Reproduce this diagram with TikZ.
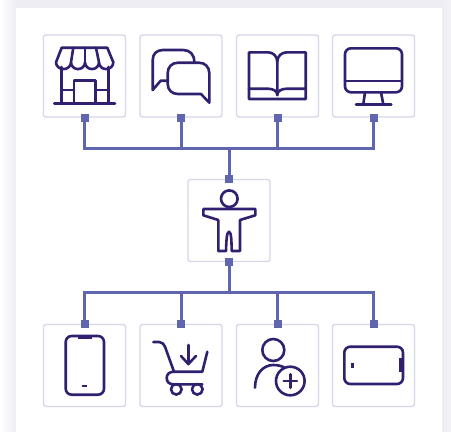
\documentclass[tikz,border=0pt]{standalone}
\definecolor{iconink}{HTML}{30206F}
\definecolor{wireblue}{HTML}{5F66AD}
\definecolor{cardedge}{HTML}{D6D7E8}
\definecolor{panelshade}{HTML}{EDEDF3}
\tikzset{
    cardbox/.style={draw=cardedge,line width=1.4pt,rounded corners=2.5pt,minimum size=82pt,inner sep=0pt},
    portbox/.style={fill=wireblue,minimum size=8pt,inner sep=0pt},
    wire/.style={draw=wireblue,line width=3pt},
    icon/.style={draw=iconink,line width=2.6pt,line join=round,line cap=round},
    iconthick/.style={draw=iconink,line width=3.8pt,line cap=round}
}
\begin{document}
\begin{tikzpicture}[x=1pt,y=-1pt]
    \useasboundingbox (0,0) rectangle (451,432);
    \shade[left color=white,right color=panelshade] (0,0) rectangle (16,432);
    \fill[panelshade] (16,0) rectangle (451,8);
    \shade[left color=panelshade,right color=panelshade!70] (442,0) rectangle (451,432);
    \fill[white] (16,8) rectangle (442,432);

    \node[cardbox] (shop) at (84.5,76) {};
    \node[cardbox] (chat) at (181,76) {};
    \node[cardbox] (book) at (277.5,76) {};
    \node[cardbox] (monitor) at (373.5,76) {};
    \node[cardbox] (person) at (229,220.5) {};
    \node[cardbox] (phone) at (84.5,365.5) {};
    \node[cardbox] (cart) at (181,365.5) {};
    \node[cardbox] (adduser) at (277.5,365.5) {};
    \node[cardbox] (tablet) at (373.5,365.5) {};

    \coordinate (topbus) at (229,148.3);
    \coordinate (lowbus) at (229,292.7);
    \draw[wire] (shop.south) |- (topbus);
    \draw[wire] (chat.south) |- (topbus);
    \draw[wire] (book.south) |- (topbus);
    \draw[wire] (monitor.south) |- (topbus);
    \draw[wire] (person.north) -- (topbus);
    \draw[wire] (person.south) -- (lowbus);
    \draw[wire] (phone.north) |- (lowbus);
    \draw[wire] (cart.north) |- (lowbus);
    \draw[wire] (adduser.north) |- (lowbus);
    \draw[wire] (tablet.north) |- (lowbus);

    \node[portbox] (shopport) at (shop.south) {};
    \node[portbox] (chatport) at (chat.south) {};
    \node[portbox] (bookport) at (book.south) {};
    \node[portbox] (monitorport) at (monitor.south) {};
    \node[portbox] (persontop) at (person.north) {};
    \node[portbox] (personlow) at (person.south) {};
    \node[portbox] (phoneport) at (phone.north) {};
    \node[portbox] (cartport) at (cart.north) {};
    \node[portbox] (adduserport) at (adduser.north) {};
    \node[portbox] (tabletport) at (tablet.north) {};

    \draw[icon] (61.7,47.7) -- (107.3,47.7) -- (113.3,62.3) arc (0:180:7.15 and 6.8) arc (0:180:7 and 6.8) arc (0:180:7 and 6.8) arc (0:180:7.5 and 6.8) -- cycle;
    \draw[icon] (73.3,47.7) -- (71,62.3);
    \draw[icon] (85,47.7) -- (85,62.3);
    \draw[icon] (96,47.7) -- (99,62.3);
    \draw[icon] (61.7,67) -- (61.7,103.7);
    \draw[icon] (108.3,67) -- (108.3,103.7);
    \draw[icon] (54.3,103.7) -- (115,103.7);
    \draw[icon] (74,103.7) -- (74,80.3) -- (95.7,80.3) -- (95.7,103.7);
    \draw[icon] (61.7,90) -- (74,90);
    \draw[icon] (95.7,90) -- (108.3,90);

    \draw[icon] (194.3,62) .. controls (194.3,54.5) and (190,50) .. (183,50) -- (163,50) .. controls (156.5,50) and (152.7,54) .. (152.7,60) -- (152.7,90) -- (160.7,80.7) -- (167.7,80.7);
    \draw[icon] (201,94) -- (178,94) .. controls (172,94) and (167.7,90) .. (167.7,84) -- (167.7,73) .. controls (167.7,67) and (172,62.7) .. (178,62.7) -- (199,62.7) .. controls (205,62.7) and (209.3,67) .. (209.3,73) -- (209.3,102.7) -- cycle;

    \draw[icon] (277.3,62) .. controls (277.3,56) and (273,52.3) .. (268,52.3) -- (249,52.3) -- (249,99) -- (305.7,99) -- (305.7,52.3) -- (287,52.3) .. controls (281.5,52.3) and (277.3,56) .. (277.3,62) -- (277.3,95);
    \draw[icon] (249,88.7) -- (268,88.7) .. controls (273,88.7) and (277.3,91) .. (277.3,95) .. controls (277.3,91) and (281.5,88.7) .. (287,88.7) -- (305.7,88.7);

    \draw[icon,rounded corners=6pt] (345,48.3) rectangle (402,92.3);
    \draw[icon] (345,81) -- (402,81);
    \draw[icon] (365,92.3) -- (363.3,104.3);
    \draw[icon] (381,92.3) -- (383.3,104.3);
    \draw[icon] (356,104.3) -- (391.3,104.3);

    \draw[icon] (229.3,198.7) circle (8.3);
    \draw[icon] (203.3,209) -- (255.3,209) -- (255.3,215.3) -- (240,220) -- (240,251) -- (231.7,251) .. controls (231.5,243) and (231.5,231.7) .. (229,231.7) .. controls (226.5,231.7) and (226.3,243) .. (226,251) -- (218.3,251) -- (218.3,220) -- (203.3,215.3) -- cycle;

    \draw[icon,rounded corners=6pt] (65.7,336) rectangle (104,394.7);
    \draw[iconthick,line cap=butt] (77.8,337.5) -- (92,337.5);
    \draw[icon,line width=2.4pt,line cap=butt] (82.3,386) -- (87.3,386);

    \draw[icon] (153.3,342) -- (159,342) .. controls (162,342) and (164,344) .. (165,346.7) -- (174,371.7) -- (202.3,371.7) -- (207.3,351.7);
    \draw[icon] (174,371.7) .. controls (169,371.7) and (166.7,374.5) .. (166.7,378) .. controls (166.7,382) and (169.5,384.3) .. (173.3,384.3) -- (202.3,384.3);
    \draw[icon] (176.3,389.3) circle (5.3);
    \draw[icon] (197.3,389.3) circle (5.3);
    \draw[icon] (188.3,345) -- (188.3,364);
    \draw[icon] (181,356) -- (188.3,364) -- (196,356);

    \draw[icon] (273.3,350) circle (11);
    \draw[icon] (255,387.7) .. controls (255,374) and (263,365) .. (273.3,365) .. controls (278,365) and (282,366) .. (285,368);
    \draw[icon] (290.3,381) circle (14.3);
    \draw[icon] (283.7,381) -- (297,381);
    \draw[icon] (290.3,374.3) -- (290.3,387.7);

    \draw[icon,rounded corners=6pt] (344.3,346.7) rectangle (403,384);
    \draw[iconthick,line cap=butt] (401,358.3) -- (401,371.7);
    \draw[icon,line width=3pt,line cap=butt] (352.7,362.7) -- (352.7,367.7);
\end{tikzpicture}
\end{document}
